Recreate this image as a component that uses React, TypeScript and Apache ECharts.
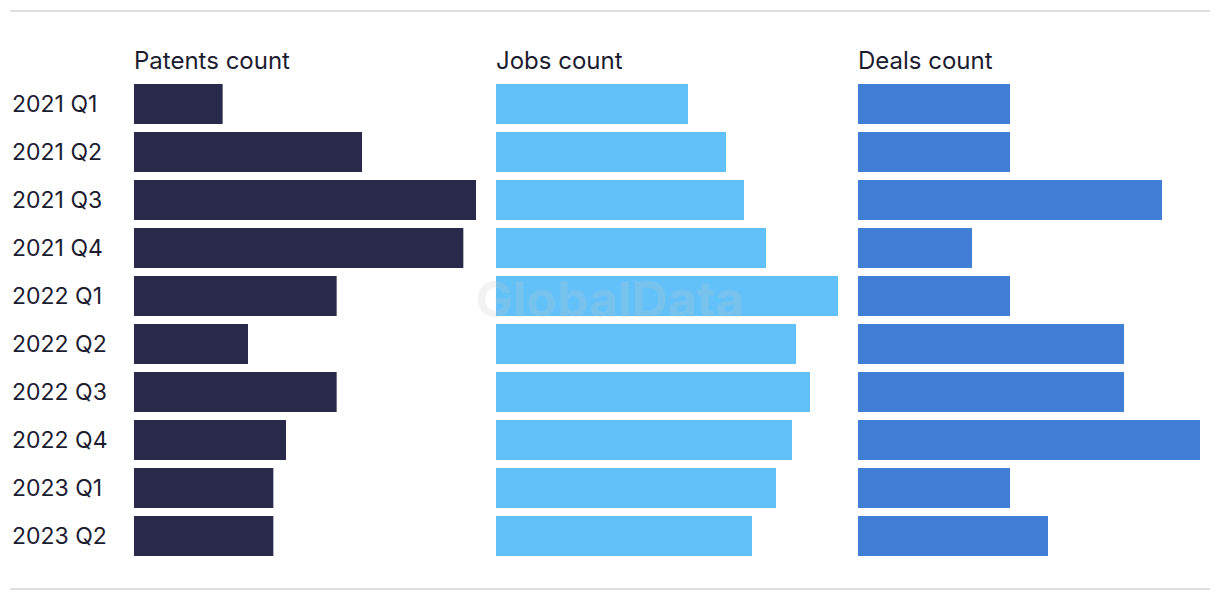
import React, { useEffect, useRef } from "react";
import * as echarts from "echarts";

const categories = ["2021 Q1", "2021 Q2", "2021 Q3", "2021 Q4", "2022 Q1", "2022 Q2", "2022 Q3", "2022 Q4", "2023 Q1", "2023 Q2"];
const patents = [7, 18, 27, 26, 16, 9, 16, 12, 11, 11];
const jobs = [96, 115, 124, 135, 171, 150, 157, 148, 140, 128];
const deals = [4, 4, 8, 3, 4, 7, 7, 9, 4, 5];
const panelTitles = ["Patents count", "Jobs count", "Deals count"];
const colors = ["#29294c", "#62c1f9", "#417ed6"];

const FONT = "Inter, 'Noto Sans', sans-serif";
const TEXT = "#1c1c30";

export default function App() {
  const ref = useRef<HTMLDivElement>(null);
  useEffect(() => {
    if (!ref.current) return;
    const chart = echarts.init(ref.current, undefined, { renderer: "svg" });
    const lefts = [134, 496, 858];
    const datasets = [patents, jobs, deals];
    const option: any = {
      animation: false,
      backgroundColor: "#ffffff",
      title: panelTitles.map((t, i) => ({
        text: t,
        left: lefts[i],
        top: 47,
        padding: 0,
        textStyle: { fontFamily: FONT, fontSize: 24, fontWeight: "normal", color: TEXT, lineHeight: 26 },
      })),
      grid: lefts.map((l) => ({ left: l, width: 342, top: 80, height: 480, containLabel: false })),
      xAxis: datasets.map((_, i) => ({
        type: "value",
        gridIndex: i,
        min: 0,
        max: "dataMax",
        show: false,
        splitLine: { show: false },
      })),
      yAxis: datasets.map((_, i) => ({
        type: "category",
        gridIndex: i,
        data: categories,
        inverse: true,
        axisLine: { show: false },
        axisTick: { show: false },
        splitLine: { show: false },
        axisLabel: {
          show: i === 0,
          align: "left",
          margin: 122,
          fontFamily: FONT,
          fontSize: 23,
          color: TEXT,
        },
      })),
      series: datasets.map((d, i) => ({
        type: "bar",
        xAxisIndex: i,
        yAxisIndex: i,
        data: d,
        barWidth: 40,
        itemStyle: { color: colors[i] },
        silent: true,
      })),
      graphic: [
        { type: "line", shape: { x1: 10, y1: 11, x2: 1210, y2: 11 }, style: { stroke: "#dddddd", lineWidth: 2 } },
        { type: "line", shape: { x1: 10, y1: 589, x2: 1210, y2: 589 }, style: { stroke: "#dddddd", lineWidth: 2 } },
        {
          type: "text",
          x: 610,
          y: 299,
          z: 100,
          style: {
            text: "GlobalData",
            fill: "rgba(200,200,200,0.22)",
            font: "bold 50px Inter, 'Noto Sans', sans-serif",
            textAlign: "center",
            textVerticalAlign: "middle",
          },
        },
      ],
    };
    chart.setOption(option);
    return () => chart.dispose();
  }, []);
  return (
    <div style={{ position: "fixed", left: 0, top: 0, width: 1220, height: 600, background: "#fff" }}>
      <div ref={ref} style={{ width: 1220, height: 600 }} />
    </div>
  );
}
